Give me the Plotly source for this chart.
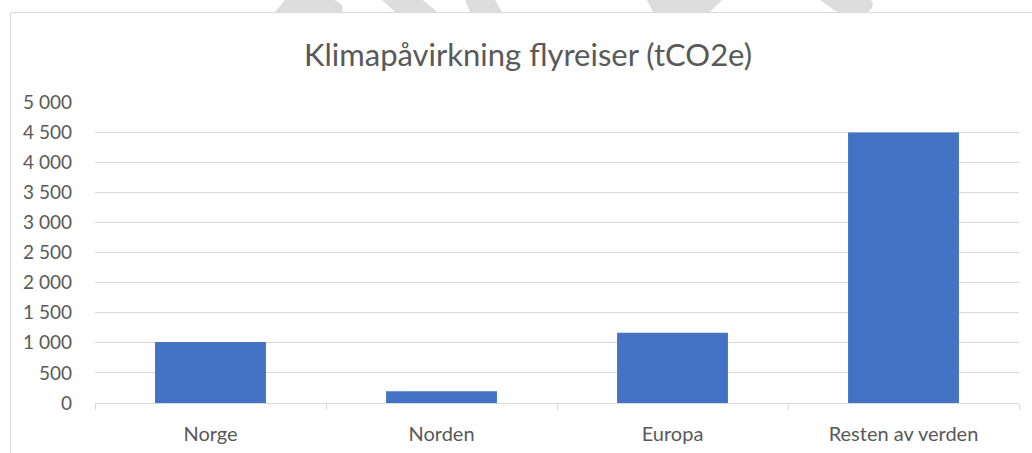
import plotly.graph_objects as go

categories = ["Norge", "Norden", "Europa", "Resten av verden"]
values = [1015, 195, 1165, 4495]
tick_vals = [0, 500, 1000, 1500, 2000, 2500, 3000, 3500, 4000, 4500, 5000]
tick_text = ["0", "500", "1 000", "1 500", "2 000", "2 500", "3 000", "3 500", "4 000", "4 500", "5 000"]
title_text = "Klimapåvirkning flyreiser (tCO2e)"

W, H = 1032, 453
L, R, T, B = 95, 13, 102, 50
pw, ph = W - L - R, H - T - B


def px(x):
    return (x - L) / pw


def py(y):
    return (H - B - y) / ph


fig = go.Figure()
fig.add_trace(go.Bar(
    x=categories, y=values,
    marker=dict(color="#4472C4", line=dict(width=0)),
    width=0.48,
))

font_family = "Lato, 'Open Sans', sans-serif"
grey = "#595959"

fig.update_layout(
    width=W, height=H,
    margin=dict(l=L, r=R, t=T, b=B),
    paper_bgcolor="white", plot_bgcolor="white",
    showlegend=False,
    title=dict(text=title_text, x=528 / W, xanchor="center", xref="container",
               y=1 - 55 / H, yanchor="middle", yref="container",
               font=dict(family=font_family, size=31, color=grey)),
    font=dict(family=font_family, color=grey),
)
fig.update_yaxes(
    range=[0, 5000], tickvals=tick_vals, ticktext=tick_text,
    showgrid=True, gridcolor="#d9d9d9", gridwidth=1,
    zeroline=False, showline=False, automargin=False,
    tickfont=dict(family=font_family, size=19, color=grey),
    ticklabelstandoff=22,
)
fig.update_xaxes(
    showline=True, linecolor="#d9d9d9", linewidth=1, automargin=False,
    ticks="outside", tickson="boundaries", ticklen=6, tickcolor="#d9d9d9",
    tickfont=dict(family=font_family, size=20, color=grey),
    ticklabelstandoff=13,
)

# chart area border
fig.add_shape(type="rect", xref="paper", yref="paper",
              x0=px(10.5), y0=py(470), x1=px(1045), y1=py(12.5),
              line=dict(color="#d9d9d9", width=1), fillcolor="rgba(0,0,0,0)", layer="below")

# faint watermark fragments at the very top
wm = [
    [(285, 0), (335, 0), (341, 4), (343, 8), (342, 12), (275, 12)],
    [(382, 0), (423, 0), (437, 12), (395, 12)],
    [(465, 0), (495, 0), (502, 12), (470, 12)],
    [(647, 0), (722, 0), (710, 12), (653, 12)],
    [(820, 0), (871, 0), (873, 4), (872, 8), (868, 12), (837, 12)],
]
for poly in wm:
    path = "M " + " L ".join(f"{px(a):.5f},{py(b):.5f}" for a, b in poly) + " Z"
    fig.add_shape(type="path", xref="paper", yref="paper", path=path,
                  fillcolor="#dcdcdc", line=dict(width=0))

fig.write_html(
    "out.html",
    config={"displayModeBar": False},
    post_script="document.body.style.margin='0';document.body.style.overflow='hidden';",
)
